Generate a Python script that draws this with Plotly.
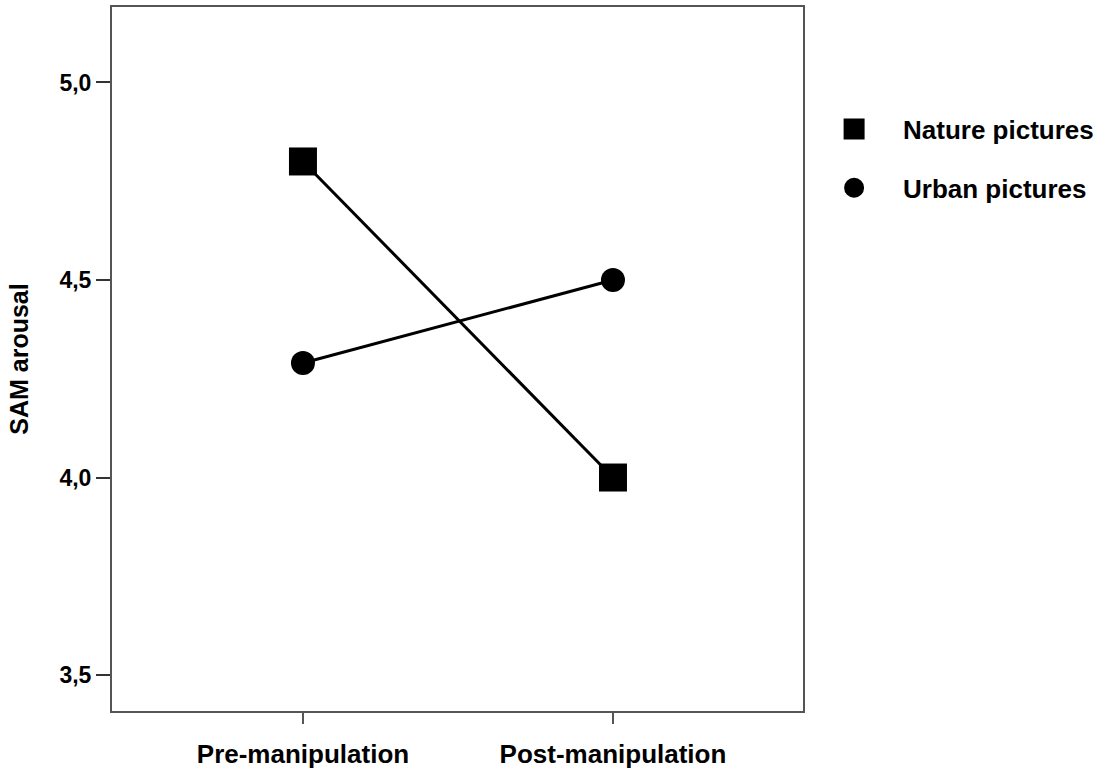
import plotly.graph_objects as go

# ---- data ----
time_points = ["Pre-manipulation", "Post-manipulation"]
nature_values = [4.80, 4.00]
urban_values = [4.29, 4.50]
series_names = ["Nature pictures", "Urban pictures"]
y_tick_values = [3.5, 4.0, 4.5, 5.0]

FONT = "Liberation Sans"
PAD = "\u00a0" * 4
x_idx = list(range(len(time_points)))

fig = go.Figure()

# data traces (no legend)
fig.add_trace(go.Scatter(
    x=x_idx, y=nature_values, mode="lines+markers", name=series_names[0],
    line=dict(color="black", width=3),
    marker=dict(symbol="square", size=28, color="black"),
    showlegend=False))
fig.add_trace(go.Scatter(
    x=x_idx, y=urban_values, mode="lines+markers", name=series_names[1],
    line=dict(color="black", width=3),
    marker=dict(symbol="circle", size=24, color="black"),
    showlegend=False))

# legend-only entries (markers only)
fig.add_trace(go.Scatter(
    x=[None], y=[None], mode="markers", name=PAD + series_names[0],
    marker=dict(symbol="square", size=28, color="black",
                line=dict(color="black", width=5)), legendgroup="a"))
fig.add_trace(go.Scatter(
    x=[None], y=[None], mode="markers", name=PAD + series_names[1],
    marker=dict(symbol="circle", size=24, color="black",
                line=dict(color="black", width=4)), legendgroup="b"))

axis_line = dict(showline=True, linecolor="#555555", linewidth=2, mirror=True,
                 showgrid=False, zeroline=False)

fig.update_layout(
    width=1119, height=768,
    paper_bgcolor="white", plot_bgcolor="white",
    margin=dict(l=112, r=316, t=7, b=57, autoexpand=False),
    separators=",.",
    font=dict(family=FONT, color="black", size=22, weight="bold"),
    xaxis=dict(
        **axis_line,
        range=[-0.616, 1.613],
        tickmode="array", tickvals=x_idx, ticktext=time_points,
        ticks="outside", ticklen=11, tickwidth=2, tickcolor="#555555",
        tickfont=dict(family=FONT, size=26, color="black", weight="bold"),
        ticklabelstandoff=8,
    ),
    yaxis=dict(
        **axis_line,
        range=[3.409, 5.191],
        tickmode="array", tickvals=y_tick_values, tickformat=".1f",
        ticks="outside", ticklen=14, tickwidth=2, tickcolor="#333333",
        tickfont=dict(family=FONT, size=23, color="black", weight="bold"),
        title=dict(text="SAM arousal", standoff=24,
                   font=dict(family=FONT, size=25, color="black", weight="bold")),
    ),
    legend=dict(
        x=1.045, y=0.86, xanchor="left", yanchor="top",
        font=dict(family=FONT, size=26, color="black", weight="bold"),
        bgcolor="rgba(0,0,0,0)", tracegroupgap=22, itemsizing="trace",
    ),
)

fig.write_html(
    "out.html",
    config={"displayModeBar": False},
    post_script="document.body.style.margin='0';document.body.style.overflow='hidden';",
)
